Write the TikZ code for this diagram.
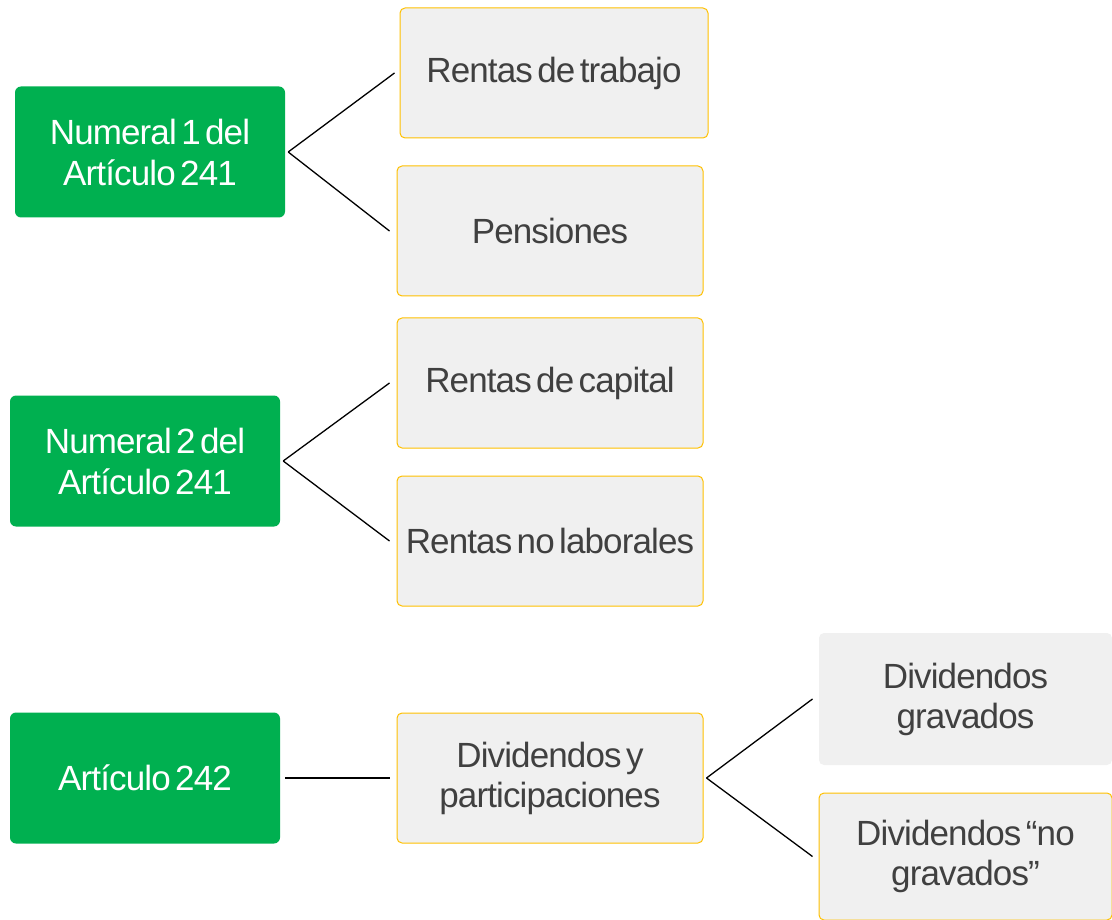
\documentclass[tikz,border=0pt]{standalone}
\usepackage{fontspec}
\setmainfont{Liberation Sans}[WordSpace=0.5]
\newfontfamily\tightfont{Liberation Sans}[WordSpace=0.5,LetterSpace=-2.5]
\definecolor{grn}{HTML}{00B050}
\definecolor{gfill}{HTML}{F0F0F0}
\definecolor{gtext}{HTML}{404040}
\definecolor{ylw}{HTML}{FFC000}
\tikzset{
  greenbox/.style={fill=grn, rounded corners=6pt, text=white, minimum width=270pt, minimum height=131pt, align=center, inner sep=0pt, font=\tightfont\fontsize{35}{41}\selectfont},
  graybox/.style={fill=gfill, draw=ylw, line width=1pt, rounded corners=5pt, text=gtext, minimum width=306pt, minimum height=130pt, align=center, inner sep=0pt, font=\tightfont\fontsize{35}{40}\selectfont},
  conn/.style={draw=black, line width=1.3pt}
}
\begin{document}
\begin{tikzpicture}[x=1pt,y=-1pt]
\useasboundingbox (0,0) rectangle (1112,920);
\node[greenbox] (g1) at (150,152) {Numeral 1 del\\Artículo 241};
\node[greenbox] (g2) at (145,461) {Numeral 2 del\\Artículo 241};
\node[greenbox] (g3) at (145,778) {Artículo 242};

\node[graybox, minimum width=308pt] (r1) at (554,73) {Rentas de trabajo};
\node[graybox] (r2) at (550,231) {Pensiones};
\node[graybox] (r3) at (550,383) {Rentas de capital};
\node[graybox] (r4) at (550,541) {Rentas no laborales};
\node[graybox] (d) at (550,778) {Dividendos y\\participaciones};
\node[graybox, draw=none, minimum width=293pt, minimum height=132pt] (dg) at (965.5,699) {Dividendos\\gravados};
\node[graybox, minimum width=293pt, minimum height=127pt] (dn) at (965.5,856.5) {Dividendos “no\\gravados”};

\coordinate (g1o) at ([xshift=3pt]g1.east);
\coordinate (g2o) at ([xshift=3pt]g2.east);
\coordinate (g3o) at ([xshift=5pt]g3.east);
\coordinate (do) at ([xshift=3pt]d.east);
\draw[conn] (g1o) -- ([xshift=-5pt]r1.west);
\draw[conn] (g1o) -- ([xshift=-7pt]r2.west);
\draw[conn] (g2o) -- ([xshift=-7pt]r3.west);
\draw[conn] (g2o) -- ([xshift=-7pt]r4.west);
\draw[conn] (g3o) -- ([xshift=-7pt]d.west);
\draw[conn] (do) -- ([xshift=-6pt]dg.west);
\draw[conn] (do) -- ([xshift=-6pt]dn.west);
\end{tikzpicture}
\end{document}
